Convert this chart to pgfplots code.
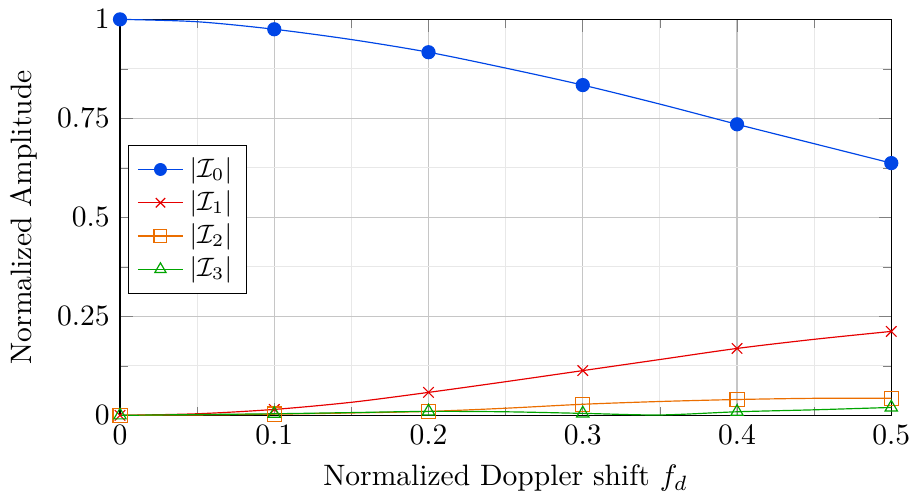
\documentclass[border=0pt]{standalone}
\usepackage{pgfplots}
\pgfplotsset{compat=1.18}
\definecolor{cI0}{RGB}{0,70,230}
\definecolor{cI1}{RGB}{230,0,0}
\definecolor{cI2}{RGB}{235,110,0}
\definecolor{cI3}{RGB}{0,165,0}
\begin{document}
\begin{tikzpicture}
\begin{axis}[
  scale only axis,
  width=261pt, height=134pt,
  xmin=0, xmax=0.5, ymin=0, ymax=1,
  xtick={0,0.1,...,0.5},
  ytick={0,0.25,0.5,0.75,1},
  minor x tick num=1, minor y tick num=1,
  grid=both,
  major grid style={gray!45},
  minor grid style={gray!18},
  xlabel={Normalized Doppler shift $f_d$},
  ylabel={Normalized Amplitude},
  clip=false,
  legend style={at={(0.01,0.683)}, anchor=north west, draw=black, fill=white, font=\small,
    row sep=-1pt},
  legend image post style={scale=0.9},
  legend cell align=left,
]
\addplot[cI0, smooth, mark=*, mark repeat=2, mark size=2.2pt] coordinates {
  (0,1) (0.05,0.994) (0.1,0.975) (0.15,0.949) (0.2,0.917) (0.25,0.877)
  (0.3,0.834) (0.35,0.786) (0.4,0.735) (0.45,0.686) (0.5,0.637)};
\addlegendentry{$|\mathcal{I}_0|$}
\addplot[cI1, smooth, mark=x, mark repeat=2, mark size=2.5pt] coordinates {
  (0,0) (0.05,0.004) (0.1,0.015) (0.15,0.033) (0.2,0.058) (0.25,0.085)
  (0.3,0.113) (0.35,0.141) (0.4,0.169) (0.45,0.192) (0.5,0.212)};
\addlegendentry{$|\mathcal{I}_1|$}
\addplot[cI2, smooth, mark=square, mark repeat=2, mark size=2.4pt] coordinates {
  (0,0) (0.05,0.001) (0.1,0.003) (0.15,0.006) (0.2,0.010) (0.25,0.018)
  (0.3,0.028) (0.35,0.035) (0.4,0.040) (0.45,0.043) (0.5,0.043)};
\addlegendentry{$|\mathcal{I}_2|$}
\addplot[cI3, smooth, mark=triangle, mark repeat=2, mark size=2.4pt] coordinates {
  (0,0) (0.05,0.002) (0.1,0.004) (0.15,0.007) (0.2,0.010) (0.25,0.009)
  (0.3,0.005) (0.35,0.001) (0.4,0.009) (0.45,0.014) (0.5,0.020)};
\addlegendentry{$|\mathcal{I}_3|$}
\end{axis}
\end{tikzpicture}
\end{document}
